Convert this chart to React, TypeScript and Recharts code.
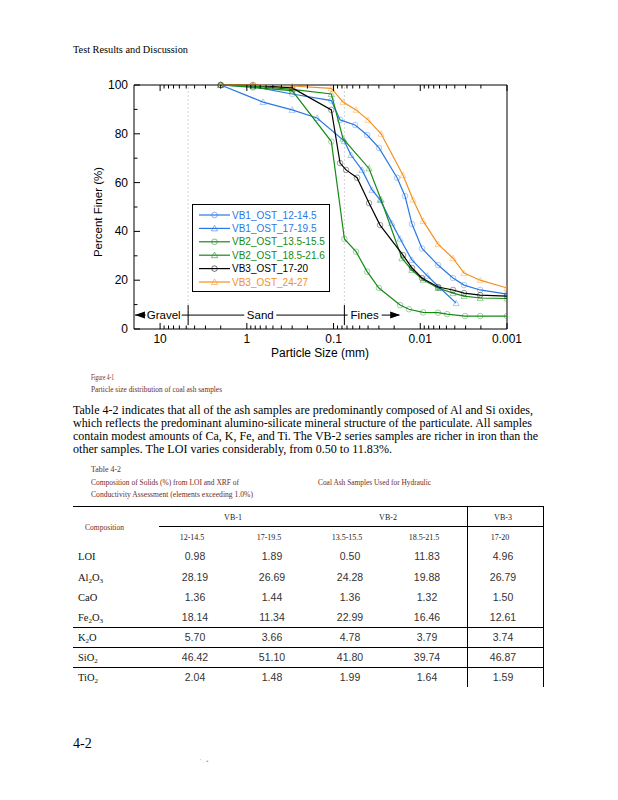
import React from "react";
import {
  ScatterChart,
  Scatter,
  XAxis,
  YAxis,
  ReferenceLine,
  ReferenceDot,
  Legend,
} from "recharts";

// [particle size (mm), percent finer (%)]
const VB1_OST_12 = [
  [2.0, 100], [0.85, 99.3], [0.3, 96.3], [0.106, 93.6], [0.0841, 85.7],
  [0.0565, 83.6], [0.041, 79.5], [0.0299, 74.2], [0.0185, 62], [0.015, 54.5],
  [0.01245, 43], [0.00955, 33], [0.00624, 26.2], [0.00419, 20.9],
  [0.00313, 18], [0.00204, 16], [0.001, 14.3],
];
const VB1_OST_17 = [
  [2.0, 100], [0.65, 93], [0.3, 89.8], [0.155, 86.5], [0.075, 77],
  [0.063, 71.3], [0.047, 65.2], [0.036, 57], [0.0291, 53], [0.0213, 43.4],
  [0.0171, 37], [0.0125, 28.3], [0.0083, 21.8], [0.00591, 16.8], [0.00386, 10.6],
];
const VB2_OST_13 = [
  [2.0, 100], [0.85, 99], [0.3, 97.7], [0.106, 76.8], [0.075, 36.9],
  [0.055, 31.7], [0.041, 23.5], [0.03, 16.8], [0.0171, 9.8], [0.0135, 8.1],
  [0.00929, 6.8], [0.00624, 6.7], [0.00491, 6.1], [0.00305, 5.3],
  [0.00204, 5.3], [0.001, 5.3],
];
const VB2_OST_18 = [
  [2.0, 100], [0.85, 99.6], [0.3, 98.2], [0.106, 96.3], [0.0777, 78],
  [0.039, 65.8], [0.0283, 53], [0.0163, 29], [0.0125, 24.2], [0.00929, 20.2],
  [0.00624, 16.8], [0.00419, 14.7], [0.00313, 13.5], [0.00204, 12.7], [0.001, 12.5],
];
const VB3_OST_17 = [
  [2.0, 100], [0.85, 100], [0.3, 98.8], [0.106, 89.8], [0.0841, 68],
  [0.0718, 65.2], [0.0536, 62], [0.039, 51.6], [0.0291, 42.6], [0.0158, 30.3],
  [0.01245, 25], [0.00955, 20.9], [0.00624, 17.2], [0.00419, 16],
  [0.00313, 14.7], [0.00204, 13.9], [0.001, 13.5],
];
const VB3_OST_24 = [
  [2.0, 100], [0.85, 100], [0.3, 99.6], [0.106, 98.6], [0.0777, 93],
  [0.055, 89.8], [0.04, 85.7], [0.0283, 80], [0.0158, 63], [0.0121, 53],
  [0.00929, 44.3], [0.00624, 34.8], [0.00419, 29], [0.00313, 22.9],
  [0.00204, 20], [0.001, 16.8],
];

const X_MAJOR = [10, 1, 0.1, 0.01, 0.001];
const X_MINOR = [
  9, 8, 7, 6, 5, 4, 3, 2,
  0.9, 0.8, 0.7, 0.6, 0.5, 0.4, 0.3, 0.2,
  0.09, 0.08, 0.07, 0.06, 0.05, 0.04, 0.03, 0.02,
  0.009, 0.008, 0.007, 0.006, 0.005, 0.004, 0.003, 0.002,
];
const Y_MAJOR = [0, 20, 40, 60, 80, 100];
const Y_MINOR = [10, 30, 50, 70, 90];

const BLUE = "#2a78e4";
const GREEN = "#168a16";
const BLACK = "#000000";
const ORANGE = "#f5901e";

const toPts = (rows: number[][]) => rows.map(([size, pct]) => ({ size, pct }));

const SERIES = [
  { name: "VB1_OST_12-14.5", rows: VB1_OST_12, color: BLUE, marker: "circle" },
  { name: "VB1_OST_17-19.5", rows: VB1_OST_17, color: BLUE, marker: "triangle" },
  { name: "VB2_OST_13.5-15.5", rows: VB2_OST_13, color: GREEN, marker: "circle" },
  { name: "VB2_OST_18.5-21.6", rows: VB2_OST_18, color: GREEN, marker: "triangle" },
  { name: "VB3_OST_17-20", rows: VB3_OST_17, color: BLACK, marker: "circle" },
  { name: "VB3_OST_24-27", rows: VB3_OST_24, color: ORANGE, marker: "triangle" },
];

const SANS = "'Liberation Sans', Arial, sans-serif";
const SERIF = "'Liberation Serif', 'Times New Roman', serif";
const CAPTION = "#6e2c1c";

function Marker({ cx, cy, color, kind, op = 0.55 }: { cx: number; cy: number; color: string; kind: string; op?: number }) {
  if (kind === "circle") {
    return <circle cx={cx} cy={cy} r={2.8} fill="none" stroke={color} strokeWidth={0.7} strokeOpacity={op} />;
  }
  const h = 3.1;
  return (
    <polygon
      points={`${cx},${cy - h} ${cx - h},${cy + h * 0.8} ${cx + h},${cy + h * 0.8}`}
      fill="none"
      stroke={color}
      strokeWidth={0.7}
      strokeOpacity={op}
    />
  );
}

const tickText = { fontSize: 12, fontFamily: SANS, fill: "#000" };

function BottomTick(props: any) {
  const { x, y, payload } = props;
  const major = X_MAJOR.includes(payload.value);
  return (
    <g>
      <line x1={x} x2={x} y1={y} y2={y - (major ? 6 : 3.5)} stroke="#000" />
      {major && (
        <text x={x} y={y + 14} textAnchor="middle" {...tickText}>
          {String(payload.value)}
        </text>
      )}
    </g>
  );
}

function TopTick(props: any) {
  const { x, y, payload } = props;
  const major = X_MAJOR.includes(payload.value);
  return <line x1={x} x2={x} y1={y} y2={y + (major ? 6 : 3.5)} stroke="#000" />;
}

function LeftTick(props: any) {
  const { x, y, payload } = props;
  const major = Y_MAJOR.includes(payload.value);
  return (
    <g>
      <line x1={x} x2={x + (major ? 6 : 3.5)} y1={y} y2={y} stroke="#000" />
      {major && (
        <text x={x - 6} y={y + 4} textAnchor="end" {...tickText}>
          {payload.value}
        </text>
      )}
    </g>
  );
}

function RightTick(props: any) {
  const { x, y, payload } = props;
  const major = Y_MAJOR.includes(payload.value);
  return <line x1={x} x2={x - (major ? 6 : 3.5)} y1={y} y2={y} stroke="#000" />;
}

function LegendBox() {
  return (
    <div style={{ width: 138, height: 88, border: "1px solid #000", boxSizing: "border-box", background: "#fff" }}>
      <svg width={136} height={86} style={{ display: "block" }}>
        {SERIES.map((s, i) => {
          const y = 10 + i * 13.4;
          return (
            <g key={s.name}>
              <line x1={6} x2={37} y1={y} y2={y} stroke={s.color} strokeWidth={1.2} />
              <Marker cx={21.5} cy={y} color={s.color} kind={s.marker} op={0.8} />
              <text x={39} y={y + 3.6} fontSize={10} fontFamily={SANS} fill={s.color}>
                {s.name}
              </text>
            </g>
          );
        })}
      </svg>
    </div>
  );
}

function BoxLabel({ cx, cy, text, w }: { cx: number; cy: number; text: string; w: number }) {
  return (
    <g>
      <rect x={cx - w / 2} y={cy - 6} width={w} height={12} fill="#fff" />
      <text x={cx} y={cy + 4} textAnchor="middle" fontSize={11.5} fontFamily={SANS} fill="#000">
        {text}
      </text>
    </g>
  );
}

const ax = { xAxisId: "b", yAxisId: "l" } as const;
const ZONE_Y = 5.7;

function Chart() {
  return (
    <ScatterChart width={618} height={370} margin={{ top: 84, right: 110, bottom: 8, left: 104 }}>
      <XAxis
        xAxisId="b"
        type="number"
        dataKey="size"
        scale="log"
        domain={[0.001, 20]}
        reversed
        allowDataOverflow
        ticks={[...X_MAJOR, ...X_MINOR]}
        interval={0}
        tickSize={0}
        tickMargin={0}
        tickLine={false}
        height={33}
        axisLine={{ stroke: "#000" }}
        tick={<BottomTick />}
      />
      <XAxis
        xAxisId="t"
        orientation="top"
        type="number"
        dataKey="size"
        scale="log"
        domain={[0.001, 20]}
        reversed
        allowDataOverflow
        ticks={[...X_MAJOR, ...X_MINOR]}
        interval={0}
        tickSize={0}
        tickMargin={0}
        tickLine={false}
        height={1}
        axisLine={{ stroke: "#000" }}
        tick={<TopTick />}
      />
      <YAxis
        yAxisId="l"
        type="number"
        dataKey="pct"
        domain={[0, 100]}
        ticks={[...Y_MAJOR, ...Y_MINOR]}
        interval={0}
        tickSize={0}
        tickMargin={0}
        tickLine={false}
        width={30}
        axisLine={{ stroke: "#000" }}
        tick={<LeftTick />}
      />
      <YAxis
        yAxisId="r"
        orientation="right"
        type="number"
        dataKey="pct"
        domain={[0, 100]}
        ticks={[...Y_MAJOR, ...Y_MINOR]}
        interval={0}
        tickSize={0}
        tickMargin={0}
        tickLine={false}
        width={1}
        axisLine={{ stroke: "#000" }}
        tick={<RightTick />}
      />

      <ReferenceLine {...ax} x={4.75} stroke="#d4d4d4" strokeDasharray="2 2" />
      <ReferenceLine {...ax} x={0.075} stroke="#d4d4d4" strokeDasharray="2 2" />

      <ReferenceLine {...ax} segment={[{ x: 19.5, y: ZONE_Y }, { x: 0.0175, y: ZONE_Y }]} stroke="#000" />
      <ReferenceLine {...ax} segment={[{ x: 4.75, y: 1.6 }, { x: 4.75, y: 9.8 }]} stroke="#000" />
      <ReferenceLine {...ax} segment={[{ x: 0.075, y: 1.6 }, { x: 0.075, y: 9.8 }]} stroke="#000" />
      <ReferenceDot
        {...ax}
        x={19}
        y={ZONE_Y}
        r={1}
        shape={(p: any) => (
          <polygon points={`${p.cx - 1},${p.cy} ${p.cx + 9},${p.cy - 3.5} ${p.cx + 9},${p.cy + 3.5}`} fill="#000" />
        )}
      />
      <ReferenceDot
        {...ax}
        x={0.0175}
        y={ZONE_Y}
        r={1}
        shape={(p: any) => (
          <polygon points={`${p.cx + 1},${p.cy} ${p.cx - 9},${p.cy - 3.5} ${p.cx - 9},${p.cy + 3.5}`} fill="#000" />
        )}
      />
      <ReferenceDot {...ax} x={9.1} y={ZONE_Y} r={1} shape={(p: any) => <BoxLabel cx={p.cx} cy={p.cy} text="Gravel" w={36} />} />
      <ReferenceDot {...ax} x={0.7} y={ZONE_Y} r={1} shape={(p: any) => <BoxLabel cx={p.cx} cy={p.cy} text="Sand" w={32} />} />
      <ReferenceDot {...ax} x={0.0438} y={ZONE_Y} r={1} shape={(p: any) => <BoxLabel cx={p.cx} cy={p.cy} text="Fines" w={34} />} />

      {SERIES.map((s) => (
        <Scatter
          key={s.name}
          {...ax}
          name={s.name}
          data={toPts(s.rows)}
          fill="none"
          stroke={s.color}
          line={{ stroke: s.color, strokeWidth: 1.2 }}
          isAnimationActive={false}
          shape={(p: any) => <Marker cx={p.cx} cy={p.cy} color={s.color} kind={s.marker} />}
        />
      ))}

      <Legend
        layout="vertical"
        align="center"
        verticalAlign="middle"
        wrapperStyle={{ left: 192, top: 204, width: 138 }}
        content={() => <LegendBox />}
      />
    </ScatterChart>
  );
}

const PARAGRAPH = [
  "Table 4-2 indicates that all of the ash samples are predominantly composed of Al and Si oxides,",
  "which reflects the predominant alumino-silicate mineral structure of the particulate. All samples",
  "contain modest amounts of Ca, K, Fe, and Ti. The VB-2 series samples are richer in iron than the",
  "other samples. The LOI varies considerably, from 0.50 to 11.83%.",
];
const PARA_WIDTHS = [460, 459, 465, 319];

const SAMPLE_GROUPS = ["VB-1", "VB-2", "VB-3"];
const SAMPLE_DEPTHS = ["12-14.5", "17-19.5", "13.5-15.5", "18.5-21.5", "17-20"];
const COMPONENTS = [
  ["Al", "", "LOI"],
  ["Al", "2", "O", "3"],
  ["CaO"],
  ["Fe", "2", "O", "3"],
  ["K", "2", "O"],
  ["SiO", "2"],
  ["TiO", "2"],
];
const COMPOSITION = [
  ["0.98", "1.89", "0.50", "11.83", "4.96"],
  ["28.19", "26.69", "24.28", "19.88", "26.79"],
  ["1.36", "1.44", "1.36", "1.32", "1.50"],
  ["18.14", "11.34", "22.99", "16.46", "12.61"],
  ["5.70", "3.66", "4.78", "3.79", "3.74"],
  ["46.42", "51.10", "41.80", "39.74", "46.87"],
  ["2.04", "1.48", "1.99", "1.64", "1.59"],
];

function Formula({ parts }: { parts: string[] }) {
  if (parts[2] === "LOI") return <tspan>LOI</tspan>;
  return (
    <>
      {parts.map((t, i) =>
        i % 2 === 1 ? (
          <tspan key={i} fontSize={7} dy={2}>
            {t}
          </tspan>
        ) : (
          <tspan key={i} dy={i > 0 ? -2 : 0}>
            {t}
          </tspan>
        )
      )}
    </>
  );
}

function Page() {
  const colX = [195, 272, 350, 427, 503];
  const rowY = [556, 577, 597, 617, 637, 657, 677];
  return (
    <svg width={618} height={800} style={{ position: "absolute", left: 0, top: 0, pointerEvents: "none" }}>
      <text x={73} y={53} fontSize={10} fontFamily={SERIF} textLength={115} lengthAdjust="spacingAndGlyphs">
        Test Results and Discussion
      </text>

      <text x={102} y={212} transform="rotate(-90 102 212)" textAnchor="middle" fontSize={11.5} fontFamily={SANS}>
        Percent Finer (%)
      </text>
      <text x={320} y={357} textAnchor="middle" fontSize={12} fontFamily={SANS}>
        Particle Size (mm)
      </text>

      <text x={91} y={380} fontSize={8} fontFamily={SERIF} fill={CAPTION} textLength={23} lengthAdjust="spacingAndGlyphs">
        Figure 4-1
      </text>
      <text x={91} y={392} fontSize={8} fontFamily={SERIF} fill={CAPTION} textLength={131} lengthAdjust="spacingAndGlyphs">
        Particle size distribution of coal ash samples
      </text>

      {PARAGRAPH.map((line, i) => (
        <text
          key={i}
          x={73}
          y={414 + i * 13}
          fontSize={12.5}
          fontFamily={SERIF}
          textLength={PARA_WIDTHS[i]}
          lengthAdjust="spacingAndGlyphs"
        >
          {line}
        </text>
      ))}

      <text x={91} y={472} fontSize={8} fontFamily={SERIF} fill={CAPTION} textLength={30} lengthAdjust="spacingAndGlyphs">
        Table 4-2
      </text>
      <text x={91} y={485} fontSize={8} fontFamily={SERIF} fill={CAPTION} textLength={148} lengthAdjust="spacingAndGlyphs">
        Composition of Solids (%) from LOI and XRF of
      </text>
      <text x={318} y={485} fontSize={8} fontFamily={SERIF} fill={CAPTION} textLength={113} lengthAdjust="spacingAndGlyphs">
        Coal Ash Samples Used for Hydraulic
      </text>
      <text x={91} y={497} fontSize={8} fontFamily={SERIF} fill={CAPTION} textLength={162} lengthAdjust="spacingAndGlyphs">
        Conductivity Assessment (elements exceeding 1.0%)
      </text>

      <g stroke="#000" strokeWidth={1}>
        <line x1={73} x2={543} y1={506.5} y2={506.5} />
        <line x1={159} x2={543} y1={526.5} y2={526.5} />
        <line x1={73} x2={543} y1={627.5} y2={627.5} />
        <line x1={73} x2={543} y1={647.5} y2={647.5} />
        <line x1={73} x2={543} y1={667.5} y2={667.5} />
        <line x1={467.5} x2={467.5} y1={506} y2={687} />
        <line x1={543.5} x2={543.5} y1={506} y2={687} />
      </g>

      {SAMPLE_GROUPS.map((g, i) => (
        <text key={g} x={[233, 388, 503][i]} y={520} textAnchor="middle" fontSize={8} fontFamily={SERIF} fill="#222">
          {g}
        </text>
      ))}
      <text x={85} y={530} fontSize={8} fontFamily={SERIF} fill={CAPTION} textLength={39} lengthAdjust="spacingAndGlyphs">
        Composition
      </text>
      {SAMPLE_DEPTHS.map((d, i) => (
        <text key={d + i} x={colX[i] - 3} y={540} textAnchor="middle" fontSize={8} fontFamily={SERIF} fill="#222">
          {d}
        </text>
      ))}

      {COMPONENTS.map((c, r) => (
        <text key={r} x={78} y={rowY[r] + 4} fontSize={10.5} fontFamily={SERIF} fill="#111">
          <Formula parts={c} />
        </text>
      ))}
      {COMPOSITION.map((row, r) =>
        row.map((v, c) => (
          <text key={r + "-" + c} x={colX[c]} y={rowY[r] + 4} textAnchor="middle" fontSize={10.5} fontFamily={SANS} fill="#333">
            {v}
          </text>
        ))
      )}

      <text x={73} y={748} fontSize={14} fontFamily={SERIF}>
        4-2
      </text>
      <text x={200} y={763} fontSize={6} fontFamily={SANS} fill="#999">
        ' . •
      </text>
    </svg>
  );
}

export default function App() {
  return (
    <div style={{ position: "absolute", left: 0, top: 0, width: 618, height: 800, background: "#fff" }}>
      <Chart />
      <Page />
    </div>
  );
}
